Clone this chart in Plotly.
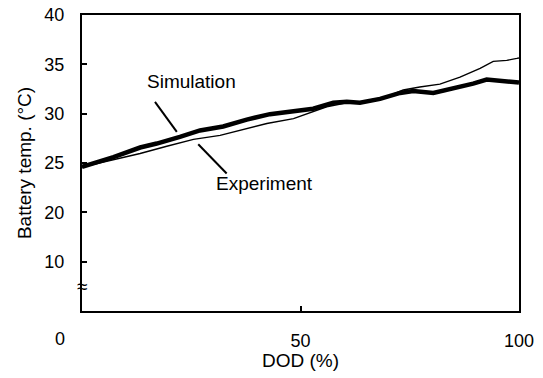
import plotly.graph_objects as go

# Depth of discharge (%) and battery temperature (°C)
sim_dod = [0, 7.2, 13.3, 17.1, 22.4, 27.0, 32.3, 37.7, 43.0, 48.4, 52.9, 57.5,
           60.6, 63.6, 68.2, 72.8, 75.8, 80.4, 85.0, 89.5, 92.6, 95.7, 99.5, 100]
sim_temp = [24.6, 25.6, 26.57, 26.97, 27.65, 28.3, 28.7, 29.4, 29.95, 30.2, 30.5, 31.1,
            31.2, 31.1, 31.5, 32.1, 32.3, 32.1, 32.55, 33.05, 33.45, 33.3, 33.1, 33.15]

exp_dod = [0, 7.2, 13.3, 19.4, 25.5, 31.6, 36.2, 42.3, 48.4, 52.9, 56.0, 60.6,
           65.1, 69.7, 73.5, 77.3, 81.9, 86.5, 91.1, 94.1, 97.2, 99.5, 100]
exp_temp = [24.6, 25.35, 25.96, 26.7, 27.4, 27.8, 28.3, 29.0, 29.5, 30.2, 30.7, 31.1,
            31.2, 31.7, 32.4, 32.7, 33.0, 33.7, 34.6, 35.3, 35.4, 35.6, 35.65]

y_tick_values = [10, 20, 25, 30, 35, 40]
x_tick_values = [50, 100]

FONT = "Liberation Sans, Arial, Helvetica, sans-serif"


def brk(v):
    """Broken temperature axis: 0-20 °C is drawn at half scale."""
    return v if v >= 20 else 10 + v / 2.0


fig = go.Figure()
fig.add_trace(go.Scatter(x=exp_dod, y=[brk(v) for v in exp_temp], mode="lines",
                         line=dict(color="black", width=1.4), name="Experiment",
                         showlegend=False))
fig.add_trace(go.Scatter(x=sim_dod, y=[brk(v) for v in sim_temp], mode="lines",
                         line=dict(color="black", width=4.5), name="Simulation",
                         showlegend=False))

axis_common = dict(showgrid=False, zeroline=False, showline=True, linecolor="black",
                   linewidth=2, mirror=True, ticks="inside", ticklen=5, tickwidth=1.5,
                   tickcolor="black", automargin=False,
                   tickfont=dict(family=FONT, size=18, color="black"))

fig.update_xaxes(range=[0, 100], tickvals=x_tick_values,
                 ticktext=[str(v) for v in x_tick_values], ticklabelstandoff=12,
                 **axis_common)
fig.update_yaxes(range=[brk(0), brk(40)], tickvals=[brk(v) for v in y_tick_values],
                 ticktext=[str(v) for v in y_tick_values], ticklabelstandoff=12,
                 title=dict(text="Battery temp. (°C)",
                            font=dict(family=FONT, size=19, color="black"), standoff=8),
                 **axis_common)

# X-axis title placed just under the tick labels
fig.add_annotation(x=0.5, y=0, xref="paper", yref="paper", text="DOD (%)",
                   showarrow=False, yanchor="middle", yshift=-49,
                   font=dict(family=FONT, size=19, color="black"))

# Leader lines from the labels to the curves
fig.add_shape(type="line", x0=16.7, y0=31.2, x1=21.7, y1=28.15, xref="x", yref="y",
              line=dict(color="black", width=2))
fig.add_shape(type="line", x0=26.6, y0=26.9, x1=33.1, y1=23.93, xref="x", yref="y",
              line=dict(color="black", width=2))

annotations = [
    dict(x=25.0, y=33.3, text="Simulation"),
    dict(x=41.7, y=22.9, text="Experiment"),
]
for a in annotations:
    fig.add_annotation(x=a["x"], y=a["y"], xref="x", yref="y", text=a["text"],
                       showarrow=False, font=dict(family=FONT, size=19, color="black"))

# Shared origin label and axis-break mark
fig.add_annotation(x=0, y=brk(0), xref="x", yref="y", text="0", showarrow=False,
                   xshift=-22, yshift=-28, font=dict(family=FONT, size=18, color="black"))
fig.add_annotation(x=0, y=brk(5), xref="x", yref="y", text="≈", showarrow=False,
                   font=dict(family=FONT, size=19, color="black"))

fig.update_layout(width=543, height=378, margin=dict(l=82, r=24, t=15, b=67),
                  paper_bgcolor="white", plot_bgcolor="white")

fig.write_html("out.html")
